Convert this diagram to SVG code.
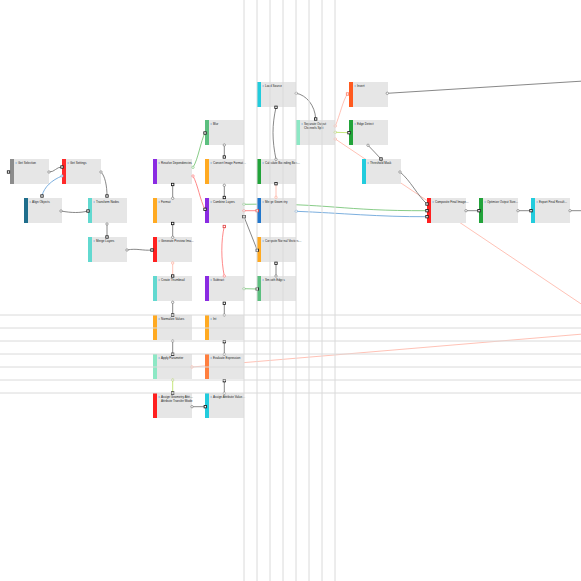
<svg xmlns="http://www.w3.org/2000/svg" width="581" height="581" viewBox="0 0 581 581">
<style>
.body{fill:#e6e6e6}
.t{font-family:"Liberation Sans",Arial,sans-serif;font-size:3px;fill:#222}
.ico{fill:#a9c4e0}
.c{fill:none;stroke-width:0.8}
.dk{stroke:#6a6a6a}
.bl{stroke:#5b9bd5}
.gr{stroke:#6abf69}
.rd{stroke:#ff6b6b}
.sa{stroke:#ffb3a3}
.yg{stroke:#b8e05a}
.out{fill:#fff;stroke-width:0.6}
.in{fill:#fff;stroke:#111;stroke-width:0.8}
.grid line{stroke:#dadada;stroke-width:1}
</style>
<rect width="581" height="581" fill="#fff"/>
<g id="connectors">
<path class="c dk" d="M49,172 C55,172 56,167 62,167"/>
<path class="c dk" d="M101,172 C105,176 107,186 107,196"/>
<path class="c bl" d="M62,176 C52,180 44,187 42,196"/>
<path class="c dk" d="M61,211 C72,213 80,213 88,211"/>
<path class="c dk" d="M107,224 L107,237"/>
<path class="c dk" d="M127,250 C137,248 143,251 152,250"/>
<path class="c gr" d="M193,167.3 C198,160 201,140 205,133"/>
<path class="c rd" d="M193,176 C198,185 200,200 205,209.3"/>
<path class="c dk" d="M172.7,198.3 L172.7,184.5"/>
<path class="c dk" d="M224.3,145 L224.3,157"/>
<path class="c dk" d="M224.3,185.3 L224.3,197.5"/>
<path class="c dk" d="M172.7,237.3 L172.7,223.5"/>
<path class="c sa" d="M172.7,263 L172.7,276"/>
<path class="c dk" d="M172.7,302.3 L172.7,315"/>
<path class="c rd" d="M224.3,276 C221,260 221,240 224.3,226.5"/>
<path class="c gr" d="M244,288.7 L257.3,289"/>
<path class="c dk" d="M224.3,315 L224.3,303.3"/>
<path class="c dk" d="M172.7,341 L172.7,354.3"/>
<path class="c dk" d="M224.3,354.3 L224.3,341.7"/>
<path class="c sa" d="M192,367 L600,332.6"/>
<path class="c yg" d="M172.7,380 L172.7,393"/>
<path class="c dk" d="M224.3,393.3 L224.3,380.7"/>
<path class="c dk" d="M192,406.7 L205.3,406.7"/>
<path class="c dk" d="M296.3,93.3 C306,95 315,105 315.7,119"/>
<path class="c dk" d="M276,159.3 C272,140 272,125 276,107.3"/>
<path class="c sa" d="M276,197.3 L276,183.7"/>
<path class="c gr" d="M244,204.3 C330,203 340,211 427,210.7"/>
<path class="c rd" d="M244,210.7 L257.3,210.7"/>
<path class="c dk" d="M244,216.7 L257.3,250.3"/>
<path class="c bl" d="M296.3,211.3 C340,213 380,217 427,216.7"/>
<path class="c sa" d="M335.3,126 C340,115 343,100 347.5,94"/>
<path class="c yg" d="M335.3,132.3 L349,132.7"/>
<path class="c sa" d="M335.3,139 L600,316.6"/>
<path class="c dk" d="M368,145.3 C372,150 377,154 381,159"/>
<path class="c dk" d="M400,172 C410,180 418,196 427,204"/>
<path class="c dk" d="M387.3,93.3 L600,80"/>
<path class="c dk" d="M466,210.7 L479,210.7"/>
<path class="c dk" d="M518,210.7 L531,210.7"/>
<path class="c dk" d="M570,210.7 L581,210.7"/>
<path class="c dk" d="M276,276 L276,263.3"/>
</g>
<g id="node-a" transform="translate(10,159)"><rect class="body" width="39" height="25"/><rect width="4" height="25" fill="#8c8c8c"/><circle class="ico" cx="6.2" cy="4" r="0.9"/><text class="t" x="8" y="5">Get Selection</text></g>
<g id="node-b" transform="translate(62,159)"><rect class="body" width="39" height="25"/><rect width="4" height="25" fill="#ff2a2a"/><circle class="ico" cx="6.2" cy="4" r="0.9"/><text class="t" x="8" y="5">Get Settings</text></g>
<g id="node-c" transform="translate(24,198)"><rect class="body" width="38" height="25"/><rect width="4" height="25" fill="#1f6e8c"/><circle class="ico" cx="6.2" cy="4" r="0.9"/><text class="t" x="8" y="5">Align Objects</text></g>
<g id="node-d" transform="translate(88,198)"><rect class="body" width="39" height="25"/><rect width="4" height="25" fill="#62d9d0"/><circle class="ico" cx="6.2" cy="4" r="0.9"/><text class="t" x="8" y="5">Transform Nodes</text></g>
<g id="node-e" transform="translate(88,237)"><rect class="body" width="39" height="25"/><rect width="4" height="25" fill="#62d9d0"/><circle class="ico" cx="6.2" cy="4" r="0.9"/><text class="t" x="8" y="5">Merge Layers</text></g>
<g id="node-h" transform="translate(153,159)"><rect class="body" width="39" height="25"/><rect width="4" height="25" fill="#8a2be2"/><circle class="ico" cx="6.2" cy="4" r="0.9"/><text class="t" x="8" y="5">Resolve Dependencies</text></g>
<g id="node-k" transform="translate(153,198)"><rect class="body" width="39" height="25"/><rect width="4" height="25" fill="#ffaa22"/><circle class="ico" cx="6.2" cy="4" r="0.9"/><text class="t" x="8" y="5">Format</text></g>
<g id="node-f" transform="translate(153,237)"><rect class="body" width="39" height="25"/><rect width="4" height="25" fill="#ff2020"/><circle class="ico" cx="6.2" cy="4" r="0.9"/><text class="t" x="8" y="5">Generate Preview Ima…</text></g>
<g id="node-q" transform="translate(153,276)"><rect class="body" width="39" height="25"/><rect width="4" height="25" fill="#62d9d0"/><circle class="ico" cx="6.2" cy="4" r="0.9"/><text class="t" x="8" y="5">Create Thumbnail</text></g>
<g id="node-r" transform="translate(153,315)"><rect class="body" width="39" height="25"/><rect width="4" height="25" fill="#ffaa22"/><circle class="ico" cx="6.2" cy="4" r="0.9"/><text class="t" x="8" y="5">Normalize Values</text></g>
<g id="node-t" transform="translate(153,354)"><rect class="body" width="39" height="25"/><rect width="4" height="25" fill="#8de8c5"/><circle class="ico" cx="6.2" cy="4" r="0.9"/><text class="t" x="8" y="5">Apply Parameter</text></g>
<g id="node-z" transform="translate(153,393)"><rect class="body" width="39" height="25"/><rect width="4" height="25" fill="#ff2020"/><circle class="ico" cx="6.2" cy="4" r="0.9"/><text class="t" x="8" y="5">Assign Geometry Attri…</text><text class="t" x="8" y="8.5">Attribute Transfer Mode</text></g>
<g id="node-g" transform="translate(205,120)"><rect class="body" width="39" height="25"/><rect width="4" height="25" fill="#5cbf7f"/><circle class="ico" cx="6.2" cy="4" r="0.9"/><text class="t" x="8" y="5">Blur</text></g>
<g id="node-i" transform="translate(205,159)"><rect class="body" width="39" height="25"/><rect width="4" height="25" fill="#ffaa22"/><circle class="ico" cx="6.2" cy="4" r="0.9"/><text class="t" x="8" y="5">Convert Image Format…</text></g>
<g id="node-j" transform="translate(205,198)"><rect class="body" width="39" height="25"/><rect width="4" height="25" fill="#8a2be2"/><circle class="ico" cx="6.2" cy="4" r="0.9"/><text class="t" x="8" y="5">Combine Layers</text></g>
<g id="node-p" transform="translate(205,276)"><rect class="body" width="39" height="25"/><rect width="4" height="25" fill="#8a2be2"/><circle class="ico" cx="6.2" cy="4" r="0.9"/><text class="t" x="8" y="5">Subtract</text></g>
<g id="node-s" transform="translate(205,315)"><rect class="body" width="39" height="25"/><rect width="4" height="25" fill="#ffaa22"/><circle class="ico" cx="6.2" cy="4" r="0.9"/><text class="t" x="8" y="5">Int</text></g>
<g id="node-u" transform="translate(205,354)"><rect class="body" width="39" height="25"/><rect width="4" height="25" fill="#ff7f3f"/><circle class="ico" cx="6.2" cy="4" r="0.9"/><text class="t" x="8" y="5">Evaluate Expression</text></g>
<g id="node-y" transform="translate(205,393)"><rect class="body" width="39" height="25"/><rect width="4" height="25" fill="#22ccdd"/><circle class="ico" cx="6.2" cy="4" r="0.9"/><text class="t" x="8" y="5">Assign Attribute Value…</text></g>
<g id="node-aa" transform="translate(257,82)"><rect class="body" width="39" height="25"/><rect width="4" height="25" fill="#22ccdd"/><circle class="ico" cx="6.2" cy="4" r="0.9"/><text class="t" x="8" y="5">Load Source</text></g>
<g id="node-ab" transform="translate(257,159)"><rect class="body" width="39" height="25"/><rect width="4" height="25" fill="#22a33a"/><circle class="ico" cx="6.2" cy="4" r="0.9"/><text class="t" x="8" y="5">Calculate Bounding Box…</text></g>
<g id="node-l" transform="translate(257,198)"><rect class="body" width="39" height="25"/><rect width="4" height="25" fill="#2277cc"/><circle class="ico" cx="6.2" cy="4" r="0.9"/><text class="t" x="8" y="5">Merge Geometry</text></g>
<g id="node-n" transform="translate(257,237)"><rect class="body" width="39" height="25"/><rect width="4" height="25" fill="#ffaa22"/><circle class="ico" cx="6.2" cy="4" r="0.9"/><text class="t" x="8" y="5">Compute Normal Vectors…</text></g>
<g id="node-o" transform="translate(257,276)"><rect class="body" width="39" height="25"/><rect width="4" height="25" fill="#5cbf7f"/><circle class="ico" cx="6.2" cy="4" r="0.9"/><text class="t" x="8" y="5">Smooth Edges</text></g>
<g id="node-v" transform="translate(296,120)"><rect class="body" width="39" height="25"/><rect width="4" height="25" fill="#8de8c5"/><circle class="ico" cx="6.2" cy="4" r="0.9"/><text class="t" x="8" y="5">Separate Output</text><text class="t" x="8" y="8.5">Channels Split</text></g>
<g id="node-x" transform="translate(349,82)"><rect class="body" width="39" height="25"/><rect width="4" height="25" fill="#ff5a1f"/><circle class="ico" cx="6.2" cy="4" r="0.9"/><text class="t" x="8" y="5">Invert</text></g>
<g id="node-ac" transform="translate(349,120)"><rect class="body" width="39" height="25"/><rect width="4" height="25" fill="#22a33a"/><circle class="ico" cx="6.2" cy="4" r="0.9"/><text class="t" x="8" y="5">Edge Detect</text></g>
<g id="node-w" transform="translate(362,159)"><rect class="body" width="39" height="25"/><rect width="4" height="25" fill="#22ccdd"/><circle class="ico" cx="6.2" cy="4" r="0.9"/><text class="t" x="8" y="5">Threshold Mask</text></g>
<g id="node-m" transform="translate(427,198)"><rect class="body" width="39" height="25"/><rect width="4" height="25" fill="#ff2020"/><circle class="ico" cx="6.2" cy="4" r="0.9"/><text class="t" x="8" y="5">Composite Final Image…</text></g>
<g id="node-ad" transform="translate(479,198)"><rect class="body" width="39" height="25"/><rect width="4" height="25" fill="#22a33a"/><circle class="ico" cx="6.2" cy="4" r="0.9"/><text class="t" x="8" y="5">Optimize Output Size…</text></g>
<g id="node-ae" transform="translate(531,198)"><rect class="body" width="39" height="25"/><rect width="4" height="25" fill="#22ccdd"/><circle class="ico" cx="6.2" cy="4" r="0.9"/><text class="t" x="8" y="5">Export Final Result…</text></g>
<g id="ports">
<g class="outs">
<circle class="out" style="stroke:#6a6a6a" cx="49" cy="172" r="1.2"/>
<circle class="out" style="stroke:#6a6a6a" cx="101" cy="172" r="1.2"/>
<circle class="out" style="stroke:#5b9bd5" cx="62" cy="176" r="1.2"/>
<circle class="out" style="stroke:#6a6a6a" cx="61" cy="211" r="1.2"/>
<circle class="out" style="stroke:#6a6a6a" cx="107" cy="224" r="1.2"/>
<circle class="out" style="stroke:#6a6a6a" cx="127" cy="250" r="1.2"/>
<circle class="out" style="stroke:#6abf69" cx="193" cy="167.3" r="1.2"/>
<circle class="out" style="stroke:#ff6b6b" cx="193" cy="176" r="1.2"/>
<circle class="out" style="stroke:#6a6a6a" cx="172.7" cy="198.3" r="1.2"/>
<circle class="out" style="stroke:#6a6a6a" cx="224.3" cy="145" r="1.2"/>
<circle class="out" style="stroke:#6a6a6a" cx="224.3" cy="185.3" r="1.2"/>
<circle class="out" style="stroke:#6a6a6a" cx="172.7" cy="237.3" r="1.2"/>
<circle class="out" style="stroke:#ff9f8a" cx="172.7" cy="263" r="1.2"/>
<circle class="out" style="stroke:#6a6a6a" cx="172.7" cy="302.3" r="1.2"/>
<circle class="out" style="stroke:#ff6b6b" cx="224.3" cy="276" r="1.2"/>
<circle class="out" style="stroke:#6abf69" cx="244" cy="288.7" r="1.2"/>
<circle class="out" style="stroke:#6a6a6a" cx="224.3" cy="315" r="1.2"/>
<circle class="out" style="stroke:#6a6a6a" cx="172.7" cy="341" r="1.2"/>
<circle class="out" style="stroke:#6a6a6a" cx="224.3" cy="354.3" r="1.2"/>
<circle class="out" style="stroke:#ff9f8a" cx="192" cy="367" r="1.2"/>
<circle class="out" style="stroke:#a8d04a" cx="172.7" cy="380" r="1.2"/>
<circle class="out" style="stroke:#6a6a6a" cx="224.3" cy="393.3" r="1.2"/>
<circle class="out" style="stroke:#6a6a6a" cx="192" cy="406.7" r="1.2"/>
<circle class="out" style="stroke:#6a6a6a" cx="296.3" cy="93.3" r="1.2"/>
<circle class="out" style="stroke:#6a6a6a" cx="276" cy="159.3" r="1.2"/>
<circle class="out" style="stroke:#ff9f8a" cx="276" cy="197.3" r="1.2"/>
<circle class="out" style="stroke:#6abf69" cx="244" cy="204.3" r="1.2"/>
<circle class="out" style="stroke:#ff6b6b" cx="244" cy="210.7" r="1.2"/>
<circle class="out" style="stroke:#5b9bd5" cx="296.3" cy="211.3" r="1.2"/>
<circle class="out" style="stroke:#ff9f8a" cx="335.3" cy="126" r="1.2"/>
<circle class="out" style="stroke:#a8d04a" cx="335.3" cy="132.3" r="1.2"/>
<circle class="out" style="stroke:#ff9f8a" cx="335.3" cy="139" r="1.2"/>
<circle class="out" style="stroke:#6a6a6a" cx="368" cy="145.3" r="1.2"/>
<circle class="out" style="stroke:#6a6a6a" cx="400" cy="172" r="1.2"/>
<circle class="out" style="stroke:#6a6a6a" cx="387.3" cy="93.3" r="1.2"/>
<circle class="out" style="stroke:#6a6a6a" cx="466" cy="210.7" r="1.2"/>
<circle class="out" style="stroke:#6a6a6a" cx="518" cy="210.7" r="1.2"/>
<circle class="out" style="stroke:#6a6a6a" cx="570" cy="210.7" r="1.2"/>
<circle class="out" style="stroke:#6a6a6a" cx="276" cy="276" r="1.2"/>
</g>
<g class="ins">
<rect class="in" x="7.3" y="170.8" width="2.4" height="2.4"/>
<rect class="in" x="60.8" y="165.8" width="2.4" height="2.4"/>
<rect class="in" x="40.8" y="194.8" width="2.4" height="2.4"/>
<rect class="in" x="86.8" y="209.8" width="2.4" height="2.4"/>
<rect class="in" x="105.8" y="194.8" width="2.4" height="2.4"/>
<rect class="in" x="105.8" y="235.8" width="2.4" height="2.4"/>
<rect class="in" x="150.8" y="248.8" width="2.4" height="2.4"/>
<rect class="in" x="203.8" y="131.8" width="2.4" height="2.4"/>
<rect class="in" x="171.5" y="183.3" width="2.4" height="2.4"/>
<rect class="in" x="223.1" y="155.8" width="2.4" height="2.4"/>
<rect class="in" x="223.1" y="196.3" width="2.4" height="2.4"/>
<rect class="in" x="203.8" y="208.1" width="2.4" height="2.4"/>
<rect class="in" x="171.5" y="222.3" width="2.4" height="2.4"/>
<rect class="in" x="171.5" y="274.8" width="2.4" height="2.4"/>
<rect class="in" x="223.1" y="225.3" width="2.4" height="2.4" style="stroke:#e03a3a"/>
<rect class="in" x="256.1" y="287.8" width="2.4" height="2.4"/>
<rect class="in" x="223.1" y="302.1" width="2.4" height="2.4"/>
<rect class="in" x="171.5" y="313.8" width="2.4" height="2.4"/>
<rect class="in" x="171.5" y="353.1" width="2.4" height="2.4"/>
<rect class="in" x="223.1" y="340.5" width="2.4" height="2.4"/>
<rect class="in" x="171.5" y="391.8" width="2.4" height="2.4"/>
<rect class="in" x="223.1" y="379.5" width="2.4" height="2.4"/>
<rect class="in" x="204.1" y="405.5" width="2.4" height="2.4"/>
<rect class="in" x="314.5" y="117.8" width="2.4" height="2.4"/>
<rect class="in" x="274.8" y="106.1" width="2.4" height="2.4"/>
<rect class="in" x="274.8" y="182.5" width="2.4" height="2.4"/>
<rect class="in" x="256.1" y="209.5" width="2.4" height="2.4" style="stroke:#e03a3a"/>
<rect class="in" x="242.8" y="215.5" width="2.4" height="2.4"/>
<rect class="in" x="256.1" y="249.1" width="2.4" height="2.4"/>
<rect class="in" x="346.3" y="92.8" width="2.4" height="2.4" style="stroke:#ff7b63"/>
<rect class="in" x="347.8" y="131.5" width="2.4" height="2.4"/>
<rect class="in" x="379.8" y="157.8" width="2.4" height="2.4"/>
<rect class="in" x="425.8" y="202.8" width="2.4" height="2.4"/>
<rect class="in" x="425.8" y="209.5" width="2.4" height="2.4"/>
<rect class="in" x="425.8" y="215.5" width="2.4" height="2.4"/>
<rect class="in" x="477.8" y="209.5" width="2.4" height="2.4"/>
<rect class="in" x="529.8" y="209.5" width="2.4" height="2.4"/>
<rect class="in" x="274.8" y="262.1" width="2.4" height="2.4"/>
</g>
</g>
<g class="grid">
<line x1="244" y1="0" x2="244" y2="581"/>
<line x1="257" y1="0" x2="257" y2="581"/>
<line x1="270" y1="0" x2="270" y2="581"/>
<line x1="283" y1="0" x2="283" y2="581"/>
<line x1="296" y1="0" x2="296" y2="581"/>
<line x1="309" y1="0" x2="309" y2="581"/>
<line x1="322" y1="0" x2="322" y2="581"/>
<line x1="335" y1="0" x2="335" y2="581"/>
<line x1="0" y1="315" x2="581" y2="315"/>
<line x1="0" y1="328" x2="581" y2="328"/>
<line x1="0" y1="341" x2="581" y2="341"/>
<line x1="0" y1="354" x2="581" y2="354"/>
<line x1="0" y1="367" x2="581" y2="367"/>
<line x1="0" y1="380" x2="581" y2="380"/>
<line x1="0" y1="393" x2="581" y2="393"/>
</g>
</svg>
